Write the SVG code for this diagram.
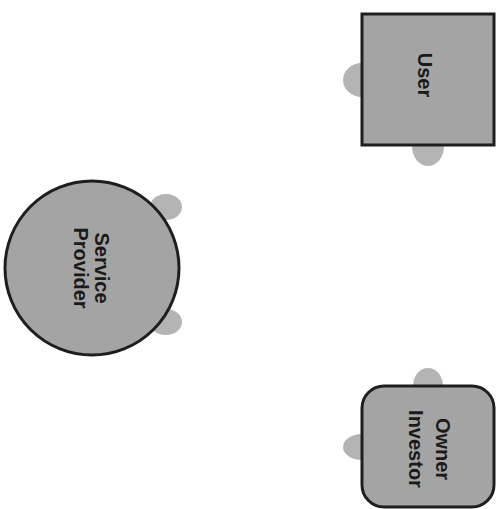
<svg xmlns="http://www.w3.org/2000/svg" width="496" height="509" viewBox="0 0 496 509">
<style>
.body{fill:#a4a4a4;stroke:#1e1e1e;stroke-width:3}
.bump{fill:#b4b4b4;stroke:none}
.lbl{font-family:"Liberation Sans",Arial,sans-serif;font-weight:bold;font-size:20px;fill:#1a1a1a;text-anchor:middle}
</style>
<rect width="496" height="509" fill="#ffffff"/>
<g id="connectors"></g>
<g id="user">
<ellipse class="bump" cx="362" cy="80" rx="19" ry="17"/>
<ellipse class="bump" cx="428" cy="146" rx="16" ry="20"/>
<rect class="body" x="362" y="14" width="132" height="131"/>
<text class="lbl" transform="translate(425,75) rotate(90)" x="0" y="7">User</text>
</g>
<g id="service-provider">
<ellipse class="bump" cx="166" cy="207" rx="16" ry="13"/>
<ellipse class="bump" cx="166" cy="322" rx="16" ry="13"/>
<circle class="body" cx="92" cy="268" r="87"/>
<text class="lbl" transform="translate(92,268) rotate(90)"><tspan x="0" y="-3">Service</tspan><tspan x="0" y="18">Provider</tspan></text>
</g>
<g id="owner-investor">
<ellipse class="bump" cx="428" cy="386" rx="15" ry="18"/>
<ellipse class="bump" cx="362" cy="447" rx="19" ry="13"/>
<rect class="body" x="362" y="386" width="132" height="121" rx="22" ry="22"/>
<text class="lbl" transform="translate(430,449) rotate(90)"><tspan x="0" y="-6">Owner</tspan><tspan x="0" y="21">Investor</tspan></text>
</g>
</svg>
